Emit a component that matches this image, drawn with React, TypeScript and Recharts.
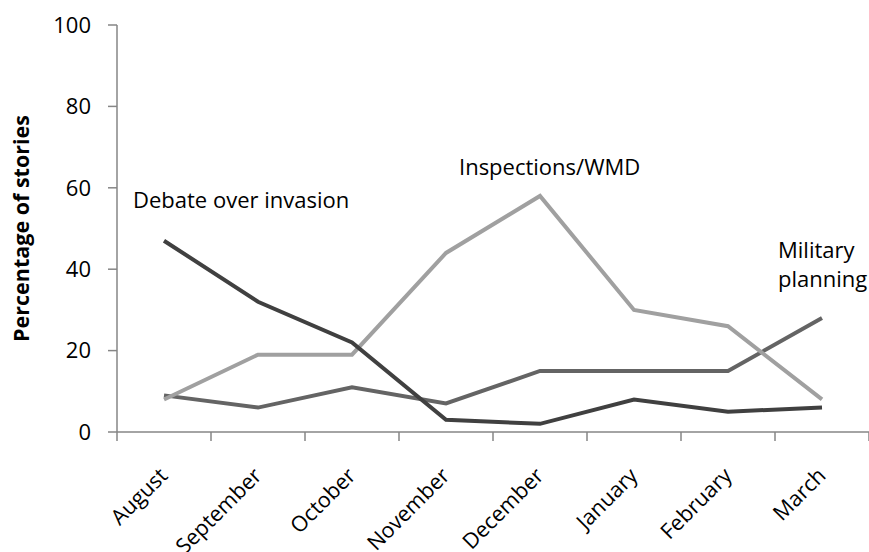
import React from 'react'
import { LineChart, Line, XAxis, YAxis } from 'recharts'

const MONTHS = ['August', 'September', 'October', 'November', 'December', 'January', 'February', 'March']
const DEBATE = [47, 32, 22, 3, 2, 8, 5, 6]
const INSPECTIONS = [8, 19, 19, 44, 58, 30, 26, 8]
const MILITARY = [9, 6, 11, 7, 15, 15, 15, 28]
const Y_TICKS = [0, 20, 40, 60, 80, 100]

const data = MONTHS.map((month, i) => ({
  month,
  debate: DEBATE[i],
  inspections: INSPECTIONS[i],
  military: MILITARY[i],
}))

const FONT = '"Open Sans", "Liberation Sans", sans-serif'
const AXIS = '#868686'
const HALF_BAND = 47

function MonthTick(props: any) {
  const { x, y, payload, index } = props
  const last = index === MONTHS.length - 1
  const tx = x + 5
  const ty = y + 45
  return (
    <g>
      <line x1={x - HALF_BAND} x2={x - HALF_BAND} y1={y} y2={y + 9} stroke={AXIS} strokeWidth={1.5} />
      {last && <line x1={x + HALF_BAND} x2={x + HALF_BAND} y1={y} y2={y + 9} stroke={AXIS} strokeWidth={1.5} />}
      <text
        x={tx}
        y={ty}
        textAnchor="end"
        transform={`rotate(-45, ${tx}, ${ty})`}
        fontSize={21.5}
        fontFamily={FONT}
        fill="#000"
      >
        {payload.value}
      </text>
    </g>
  )
}

const noteStyle: React.CSSProperties = {
  position: 'absolute',
  fontFamily: FONT,
  fontSize: 22,
  color: '#000',
  lineHeight: '29px',
  whiteSpace: 'nowrap',
}

export default function App() {
  return (
    <div style={{ position: 'absolute', left: 0, top: 0, width: 869, height: 552, background: '#fff' }}>
      <LineChart width={869} height={552} data={data} margin={{ top: 25, right: 0, bottom: 0, left: 0 }}>
        <XAxis
          dataKey="month"
          height={120}
          padding={{ left: HALF_BAND, right: HALF_BAND }}
          axisLine={{ stroke: AXIS, strokeWidth: 1.5 }}
          tickLine={false}
          tickSize={0}
          tickMargin={0}
          interval={0}
          tick={<MonthTick />}
        />
        <YAxis
          width={117}
          domain={[0, 100]}
          ticks={Y_TICKS}
          axisLine={{ stroke: AXIS, strokeWidth: 1.5 }}
          tickLine={{ stroke: AXIS, strokeWidth: 1.5 }}
          tickSize={9}
          tickMargin={17}
          tick={{ fontSize: 22, fontFamily: FONT, fill: '#000' }}
          label={{
            value: 'Percentage of stories',
            angle: -90,
            position: 'insideLeft',
            offset: 21,
            style: { fontSize: 21.5, fontWeight: 'bold', fontFamily: FONT, fill: '#000', textAnchor: 'middle' },
          }}
        />
        <Line dataKey="military" stroke="#646464" strokeWidth={4} dot={false} isAnimationActive={false} />
        <Line dataKey="inspections" stroke="#a0a0a0" strokeWidth={4} dot={false} isAnimationActive={false} />
        <Line dataKey="debate" stroke="#404040" strokeWidth={4} dot={false} isAnimationActive={false} />
      </LineChart>
      <div style={{ ...noteStyle, left: 133, top: 185 }}>Debate over invasion</div>
      <div style={{ ...noteStyle, left: 459, top: 152 }}>Inspections/WMD</div>
      <div style={{ ...noteStyle, left: 778, top: 235 }}>
        Military
        <br />
        planning
      </div>
    </div>
  )
}
